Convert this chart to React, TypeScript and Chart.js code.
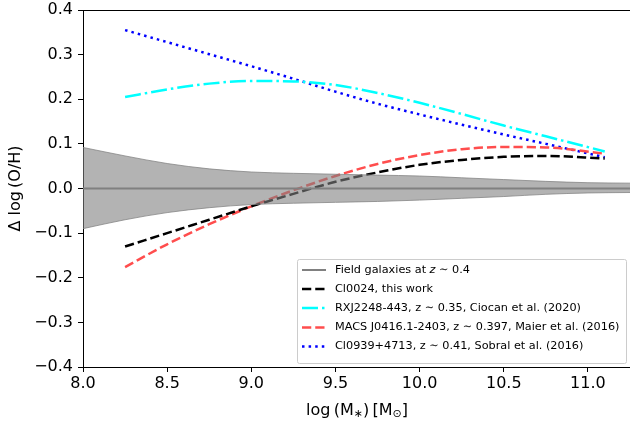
import React, { useEffect, useRef } from "react";
import { Chart, registerables } from "chart.js";

Chart.register(...registerables);

const bandX = [8.0, 8.25, 8.5, 8.75, 9.0, 9.25, 9.5, 9.75, 10.0, 10.25, 10.5, 10.75, 11.0, 11.25];
const bandUpper = [0.092, 0.073, 0.056, 0.044, 0.037, 0.034, 0.032, 0.03, 0.028, 0.024, 0.02, 0.016, 0.013, 0.012];
const bandLower = [-0.09, -0.07, -0.054, -0.043, -0.036, -0.033, -0.031, -0.029, -0.026, -0.022, -0.018, -0.013, -0.01, -0.009];

const lineX = [8.25, 8.5, 8.75, 9.0, 9.25, 9.5, 9.75, 10.0, 10.25, 10.5, 10.75, 11.1];
const cl0024 = [-0.13, -0.1, -0.07, -0.04, -0.012, 0.015, 0.036, 0.053, 0.064, 0.071, 0.073, 0.067];
const rxj2248 = [0.205, 0.222, 0.235, 0.241, 0.24, 0.232, 0.214, 0.192, 0.167, 0.141, 0.117, 0.083];
const macs0416 = [-0.176, -0.125, -0.08, -0.04, -0.004, 0.028, 0.055, 0.075, 0.088, 0.093, 0.092, 0.078];
const cl0939 = [0.355, 0.328, 0.301, 0.274, 0.246, 0.217, 0.19, 0.166, 0.143, 0.121, 0.1, 0.07];

const xTicks = [8.0, 8.5, 9.0, 9.5, 10.0, 10.5, 11.0];
const yTicks = [-0.4, -0.3, -0.2, -0.1, 0.0, 0.1, 0.2, 0.3, 0.4];

const legendLabels = [
  "Field galaxies at z ∼ 0.4",
  "Cl0024, this work",
  "RXJ2248-443, z ∼ 0.35, Ciocan et al. (2020)",
  "MACS J0416.1-2403, z ∼ 0.397, Maier et al. (2016)",
  "Cl0939+4713, z ∼ 0.41, Sobral et al. (2016)",
];

const FONT = "'DejaVu Sans', sans-serif";

const pts = (xs: number[], ys: number[]) => xs.map((x, i) => ({ x, y: ys[i] }));

const styles = [
  { color: "#808080", dash: [] as number[], width: 2 },
  { color: "#000000", dash: [9.25, 4], width: 2.5 },
  { color: "#00ffff", dash: [16, 4, 2.5, 4], width: 2.5 },
  { color: "#ff4d4d", dash: [9.25, 4], width: 2.5 },
  { color: "#0000ff", dash: [2.5, 4.1], width: 2.5 },
];

const extrasPlugin = {
  id: "extras",
  afterDraw(chart: any) {
    const ctx = chart.ctx;
    const a = chart.chartArea;
    ctx.save();
    // top spine
    ctx.strokeStyle = "#000";
    ctx.lineWidth = 1;
    ctx.beginPath();
    ctx.moveTo(a.left, a.top + 0.5);
    ctx.lineTo(a.right + 2, a.top + 0.5);
    ctx.stroke();

    // legend
    const bx = 297, by = 259, bw = 329, bh = 104;
    ctx.fillStyle = "rgba(255,255,255,0.85)";
    ctx.strokeStyle = "#cccccc";
    ctx.lineWidth = 1;
    ctx.beginPath();
    (ctx as any).roundRect(bx + 0.5, by + 0.5, bw, bh, 2);
    ctx.fill();
    ctx.stroke();
    const rowY = [270, 289, 308, 327.5, 346.5];
    const lf = `11.25px ${FONT}`;
    ctx.font = lf;
    ctx.textBaseline = "middle";
    ctx.textAlign = "left";
    legendLabels.forEach((lbl, i) => {
      const s = styles[i];
      ctx.strokeStyle = s.color;
      ctx.lineWidth = s.width;
      ctx.setLineDash(s.dash);
      ctx.beginPath();
      ctx.moveTo(302, rowY[i]);
      ctx.lineTo(326, rowY[i]);
      ctx.stroke();
      ctx.setLineDash([]);
      ctx.fillStyle = "#000";
      if (i === 0) {
        let x = 335;
        const p1 = "Field galaxies at ";
        ctx.font = lf;
        ctx.fillText(p1, x, rowY[i]);
        x += ctx.measureText(p1).width;
        ctx.font = `italic 11.25px ${FONT}`;
        ctx.fillText("z", x, rowY[i]);
        x += ctx.measureText("z").width;
        ctx.font = lf;
        ctx.fillText(" ∼ 0.4", x, rowY[i]);
      } else {
        ctx.font = lf;
        ctx.fillText(lbl, 335, rowY[i]);
      }
    });

    // x title: log(M*) [M⊙]
    const parts: { t: string; sub?: boolean }[] = [
      { t: "log\u2009(M" },
      { t: "∗", sub: true },
      { t: ")\u2009[M" },
      { t: "⊙", sub: true },
      { t: "]" },
    ];
    const big = `16px ${FONT}`;
    const small = `11px ${FONT}`;
    let total = 0;
    parts.forEach((p) => {
      ctx.font = p.sub ? small : big;
      total += ctx.measureText(p.t).width;
    });
    let x = (a.left + 631) / 2 - total / 2;
    const ty = 415;
    ctx.textBaseline = "alphabetic";
    parts.forEach((p) => {
      ctx.font = p.sub ? small : big;
      ctx.fillText(p.t, x, p.sub ? ty + 2 : ty);
      x += ctx.measureText(p.t).width;
    });

    // y title
    ctx.save();
    ctx.translate(16, (a.top + a.bottom) / 2);
    ctx.rotate(-Math.PI / 2);
    ctx.font = big;
    ctx.textAlign = "center";
    ctx.textBaseline = "middle";
    ctx.fillText("Δ log\u2009(O/H)", 0, 0);
    ctx.restore();

    ctx.restore();
  },
};

export default function App() {
  const ref = useRef<HTMLCanvasElement>(null);
  useEffect(() => {
    if (!ref.current) return;
    const lineDs = (label: string, ys: number[], i: number) => ({
      label,
      data: pts(lineX, ys),
      borderColor: styles[i].color,
      borderWidth: styles[i].width,
      borderDash: styles[i].dash,
      pointRadius: 0,
      fill: false,
      cubicInterpolationMode: "monotone" as const,
    });
    const chart = new Chart(ref.current, {
      type: "line",
      data: {
        datasets: [
          {
            label: "upper",
            data: pts(bandX, bandUpper),
            borderColor: "rgba(128,128,128,0.75)",
            borderWidth: 1,
            backgroundColor: "rgba(128,128,128,0.6)",
            pointRadius: 0,
            fill: "+1",
            cubicInterpolationMode: "monotone",
          },
          {
            label: "lower",
            data: pts(bandX, bandLower),
            borderColor: "rgba(128,128,128,0.75)",
            borderWidth: 1,
            pointRadius: 0,
            fill: false,
            cubicInterpolationMode: "monotone",
          },
          {
            label: legendLabels[0],
            data: pts([8.0, 11.25], [0, 0]),
            borderColor: "#808080",
            borderWidth: 2,
            pointRadius: 0,
            fill: false,
          },
          lineDs(legendLabels[1], cl0024, 1),
          lineDs(legendLabels[2], rxj2248, 2),
          lineDs(legendLabels[3], macs0416, 3),
          lineDs(legendLabels[4], cl0939, 4),
        ],
      },
      options: {
        animation: false,
        responsive: false,
        maintainAspectRatio: false,
        layout: { padding: { top: 0, left: 0, right: 0, bottom: 0 } },
        plugins: { legend: { display: false }, tooltip: { enabled: false } },
        scales: {
          x: {
            type: "linear",
            min: 8.0,
            max: 11.25,
            afterBuildTicks: (s: any) => {
              s.ticks = xTicks.map((v) => ({ value: v }));
            },
            afterFit: (s: any) => {
              s.height = 56;
              s.paddingLeft = 0;
              s.paddingRight = 0;
            },
            ticks: {
              font: { family: FONT, size: 16 },
              color: "#000",
              padding: 2,
              maxRotation: 0,
              callback: (v: any) => Number(v).toFixed(1),
            },
            grid: { drawOnChartArea: false, drawTicks: true, tickLength: 5, color: "#000" },
            border: { display: true, color: "#000", width: 1 },
          },
          y: {
            type: "linear",
            min: -0.4,
            max: 0.4,
            afterBuildTicks: (s: any) => {
              s.ticks = yTicks.map((v) => ({ value: v }));
            },
            afterFit: (s: any) => {
              s.width = 83;
              s.paddingTop = 10;
              s.paddingBottom = 0;
            },
            ticks: {
              font: { family: FONT, size: 16 },
              color: "#000",
              padding: 5,
              callback: (v: any) => {
                const n = Number(v);
                const t = Math.abs(n).toFixed(1);
                return n < -1e-9 ? "\u2212" + t : t;
              },
            },
            grid: { drawOnChartArea: false, drawTicks: true, tickLength: 5, color: "#000" },
            border: { display: true, color: "#000", width: 1 },
          },
        },
      },
      plugins: [extrasPlugin],
    });
    return () => chart.destroy();
  }, []);
  return (
    <div style={{ position: "fixed", left: 0, top: 0, width: 630, height: 423, background: "#fff" }}>
      <canvas ref={ref} width={630} height={423} style={{ width: 630, height: 423 }} />
    </div>
  );
}
